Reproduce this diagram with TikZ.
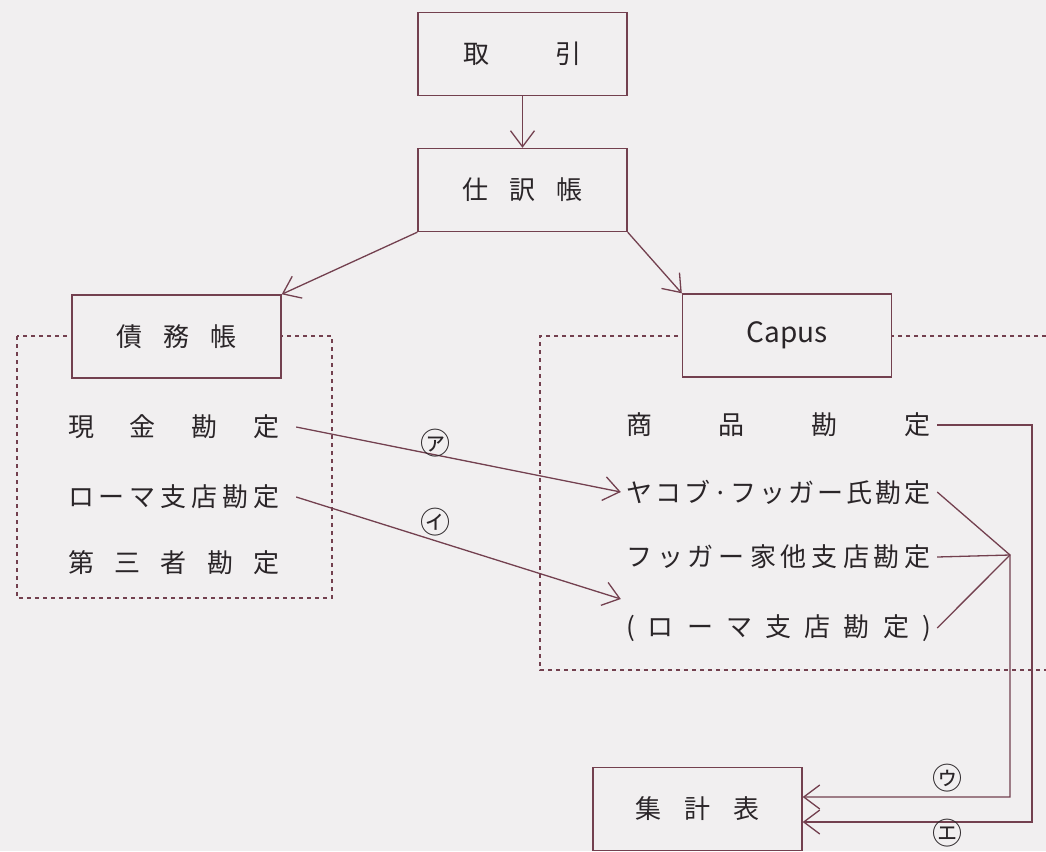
\documentclass[tikz,border=0pt]{standalone}
\usepackage{fontspec}
\setmainfont{Noto Sans CJK JP}
\usetikzlibrary{arrows.meta}
\definecolor{bg}{HTML}{F1EFF0}
\definecolor{ln}{HTML}{73404F}
\definecolor{tx}{HTML}{2A2528}
\newcommand{\spr}[2]{\hbox to #1pt{#2}}
\tikzset{
  every node/.style={text=tx, font=\fontsize{26}{30}\selectfont},
  box/.style={draw=ln, line width=1.4pt, fill=bg, minimum width=209pt, minimum height=83pt, inner sep=0pt},
  lbl/.style={inner sep=0pt},
  circ/.style={inner sep=0pt, font=\fontsize{30}{34}\selectfont},
  conn/.style={draw=ln, line width=1.3pt},
  arr/.style={conn, -{Straight Barb[length=16pt,width=24pt,line width=1.3pt]}},
  dash box/.style={draw=ln, line width=1.2pt, dash pattern=on 4pt off 4pt},
}
\begin{document}
\begin{tikzpicture}[x=1pt,y=-1pt]
\fill[bg] (0,0) rectangle (1046,851);
\useasboundingbox (0,0) rectangle (1046,851);
% dashed groups
\draw[dash box] (17,336) rectangle (332,598);
\draw[dash box] (1046,336) -- (540,336) -- (540,670) -- (1046,670);
% boxes
\node[box] (torihiki) at (522.5,54) {\spr{118}{取\hfill 引}};
\node[box] (shiwake) at (522.5,190) {\spr{121}{仕\hfill 訳\hfill 帳}};
\node[box] (saimu) at (176.5,336.5) {\spr{121}{債\hfill 務\hfill 帳}};
\node[box] (capus) at (787,335.5) {\fontsize{28}{32}\selectfont Capus};
\node[box] (shukei) at (697.5,809) {\spr{125}{集\hfill 計\hfill 表}};
% left accounts
\node[lbl] (genkin) at (174,427) {\spr{212}{現\hfill 金\hfill 勘\hfill 定}};
\node[lbl] (romaL) at (174,497) {\spr{212}{ロ\hfill ー\hfill マ\hfill 支\hfill 店\hfill 勘\hfill 定}};
\node[lbl] (daisan) at (174,563) {\spr{212}{第\hfill 三\hfill 者\hfill 勘\hfill 定}};
% right accounts
\node[lbl] (shohin) at (778.5,425) {\spr{305}{商\hfill 品\hfill 勘\hfill 定}};
\node[lbl] (jacob) at (778.5,492) {\spr{305}{ヤ\hfill コ\hfill ブ\hfill ·\hfill フ\hfill ッ\hfill ガ\hfill ー\hfill 氏\hfill 勘\hfill 定}};
\node[lbl] (fugger) at (778.5,557) {\spr{305}{フ\hfill ッ\hfill ガ\hfill ー\hfill 家\hfill 他\hfill 支\hfill 店\hfill 勘\hfill 定}};
\node[lbl] (romaR) at (778.5,628) {\spr{305}{(\hfill ロ\hfill ー\hfill マ\hfill 支\hfill 店\hfill 勘\hfill 定\hfill )}};
% main flow
\draw[arr] (torihiki) -- (shiwake);
\draw[arr] (shiwake.south west) -- (saimu.north east);
\draw[arr] (shiwake.south east) -- (capus.north west);
% transfers
\draw[arr] ([xshift=16pt]genkin.east) -- ([xshift=-5pt]jacob.west);
\draw[arr] ([xshift=16pt]romaL.east) -- ([xshift=-5pt,yshift=29pt]romaR.west);
\node[circ] (la) at (435,443) {㋐};
\node[circ] (li) at (435,522) {㋑};
% to summary
\coordinate (J) at (1010,555);
\coordinate (eR) at (1032,822);
\draw[conn] ([xshift=6pt]jacob.east) -- (J);
\draw[conn] ([xshift=6pt]romaR.east) -- (J);
\draw[arr] ([xshift=6pt]fugger.east) -- (J) |- ([yshift=12pt]shukei.east);
\draw[arr] ([xshift=6pt]shohin.east) -| (eR) -- ([yshift=-13pt]shukei.east);
\node[circ] (lu) at (947,778) {㋒};
\node[circ] (le) at (947,833) {㋓};
\end{tikzpicture}
\end{document}
